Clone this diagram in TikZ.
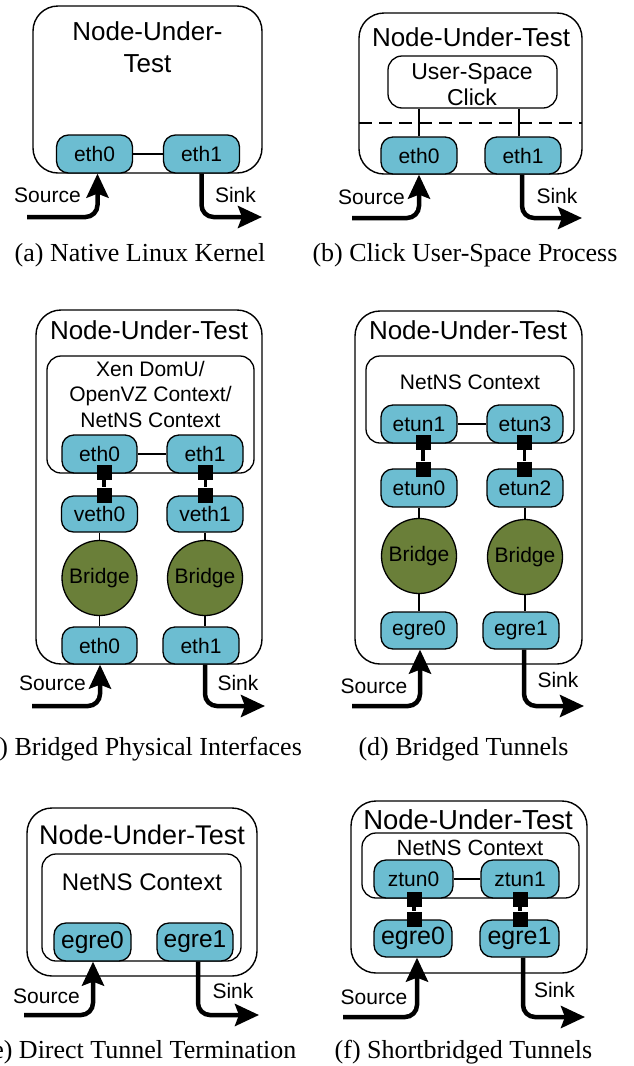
\documentclass[tikz,border=0pt]{standalone}
\usepackage{fontspec}
\setmainfont{Liberation Serif}
\newfontfamily\arialfont{Liberation Sans}
\usetikzlibrary{arrows.meta}
\definecolor{ifblue}{RGB}{108,189,209}
\definecolor{brgreen}{RGB}{106,127,57}
\newcommand\fsz[2]{\fontsize{#1}{#2}\selectfont}
\begin{document}
\begin{tikzpicture}[x=1pt,y=-1pt,
 outer/.style={draw, line width=1.4pt, rounded corners=25pt, inner sep=0pt},
 inner/.style={draw, line width=1.3pt, rounded corners=14pt, inner sep=0pt},
 iface/.style={draw, fill=ifblue, line width=1.3pt, rounded corners=12pt, minimum width=76pt, minimum height=38pt, inner sep=0pt, font=\arialfont\fsz{21}{25}},
 bridge/.style={circle, draw, fill=brgreen, line width=1.3pt, minimum size=75pt, inner sep=0pt, font=\arialfont\fsz{21}{25}},
 plug/.style={fill=black, minimum width=15pt, minimum height=15pt, inner sep=0pt},
 plugline/.style={line width=3.2pt},
 link/.style={line width=1.2pt},
 title/.style={font=\arialfont\fsz{26}{32}, align=center, inner sep=0pt},
 ctx/.style={font=\arialfont\fsz{21}{25.5}, align=center, inner sep=0pt},
 lbl/.style={font=\arialfont\fsz{21}{25}, inner sep=0pt},
 capt/.style={font=\fsz{26}{30}, anchor=base, inner sep=0pt},
 flow/.style={line width=4.5pt, rounded corners=12pt, -{Stealth[length=24pt,width=22pt,inset=4pt]}},
]
\useasboundingbox (0,0) rectangle (633,1066);

% ---------- (a)
\node[outer, minimum width=229pt, minimum height=167pt] (nutA) at (147.5,89.5) {};
\node[title] (tA) at (147.5,47.5) {Node-Under-\\Test};
\node[iface] (e0A) at (94.5,154) {eth0};
\node[iface] (e1A) at (201.5,154) {eth1};
\draw[link] (e0A) -- (e1A);
\coordinate (sA) at (27,217);
\coordinate (kA) at (262,217);
\draw[flow] (sA) -| ([xshift=3pt]e0A.south);
\draw[flow] (e1A.south) |- (kA);
\node[lbl] (srcA) at (47.5,195.5) {Source};
\node[lbl] (snkA) at (235.5,195) {Sink};
\node[capt] (capA) at (140,261) {(a) Native Linux Kernel};

% ---------- (b)
\node[outer, minimum width=223pt, minimum height=161pt] (nutB) at (470.5,93.5) {};
\node[title] (tB) at (471,37) {Node-Under-Test};
\node[inner, minimum width=169pt, minimum height=52pt] (clk) at (472.5,82) {};
\node[ctx, font=\arialfont\fsz{23}{26}] (clkT) at (472,84.6) {User-Space\\Click};
\coordinate (dL) at (359,123);
\coordinate (dR) at (582,123);
\draw[link, dash pattern=on 13pt off 7pt] (dL) -- (dR);
\node[iface, minimum height=37pt] (e0B) at (419,155.5) {eth0};
\node[iface, minimum height=37pt] (e1B) at (523,155.5) {eth1};
\draw[link] (e0B.north) -- (e0B.north |- clk.south);
\draw[link] ([xshift=-4pt]e1B.north) -- ([xshift=-4pt]e1B.north |- clk.south);
\coordinate (sB) at (352,218);
\coordinate (kB) at (582,218);
\draw[flow] (sB) -| (e0B.south);
\draw[flow] ([xshift=-1pt]e1B.south) |- (kB);
\node[lbl] (srcB) at (371.5,197) {Source};
\node[lbl] (snkB) at (557,196) {Sink};
\node[capt] (capB) at (465,261) {(b) Click User-Space Process};

% ---------- (c)
\node[outer, minimum width=226pt, minimum height=354pt] (nutC) at (149,487) {};
\node[title] (tC) at (149,330) {Node-Under-Test};
\node[inner, minimum width=207pt, minimum height=117pt] (ctxC) at (150.5,414.5) {};
\node[ctx] (ctxCT) at (150.5,394) {Xen DomU/\\OpenVZ Context/\\NetNS Context};
\node[iface, minimum width=75pt] (ie0C) at (99.5,454) {eth0};
\node[iface] (ie1C) at (205,454) {eth1};
\draw[link] (ie0C) -- (ie1C);
\node[iface, minimum height=36pt] (v0C) at (99.5,514) {veth0};
\node[iface, minimum height=36pt] (v1C) at (205,514) {veth1};
\node[bridge] (b0C) at (99.5,578) {Bridge};
\node[bridge] (b1C) at (205,578) {Bridge};
\node[iface, minimum width=75pt, minimum height=37pt] (pe0C) at (99.5,645.5) {eth0};
\node[iface, minimum height=37pt] (pe1C) at (201,645.5) {eth1};
\draw[link] (v0C) -- (b0C);
\draw[link] (b0C) -- (pe0C);
\draw[link] (v1C) -- (b1C);
\draw[link] (b1C.south) -- (b1C.south |- pe1C.north);
\node[plug] (q0C) at (104,472.5) {};
\node[plug] (r0C) at (104,495) {};
\draw[plugline] (q0C) -- (r0C);
\node[plug] (q1C) at (205.5,472.5) {};
\node[plug] (r1C) at (205.5,495) {};
\draw[plugline] (q1C) -- (r1C);
\coordinate (sC) at (32,706);
\coordinate (kC) at (265,706);
\draw[flow] (sC) -| ([xshift=0.5pt]pe0C.south);
\draw[flow] ([xshift=4pt]pe1C.south) |- (kC);
\node[lbl] (srcC) at (52.5,683) {Source};
\node[lbl] (snkC) at (238,683) {Sink};
\node[capt] (capC) at (140.5,755) {(c) Bridged Physical Interfaces};

% ---------- (d)
\node[outer, minimum width=227pt, minimum height=353pt] (nutD) at (468.5,487.5) {};
\node[title] (tD) at (468,330) {Node-Under-Test};
\node[inner, minimum width=208pt, minimum height=87pt] (ctxD) at (470,399.5) {};
\node[ctx] (ctxDT) at (470,382) {NetNS Context};
\node[iface] (t1D) at (419,424) {etun1};
\node[iface] (t3D) at (525,424) {etun3};
\draw[link] (t1D) -- (t3D);
\node[iface] (t0D) at (419,488) {etun0};
\node[iface] (t2D) at (525,488) {etun2};
\node[bridge] (b0D) at (419,556) {Bridge};
\node[bridge] (b1D) at (525,557) {Bridge};
\node[iface, minimum height=37pt] (g0D) at (419,630.5) {egre0};
\node[iface, minimum height=37pt] (g1D) at (521,630.5) {egre1};
\draw[link] (t0D) -- (b0D);
\draw[link] (b0D) -- (g0D);
\draw[link] (t2D) -- (b1D);
\draw[link] (b1D.south) -- (b1D.south |- g1D.north);
\node[plug] (q0D) at (423,442) {};
\node[plug] (r0D) at (423,469) {};
\draw[plugline] (q0D) -- (r0D);
\node[plug] (q1D) at (524.5,442) {};
\node[plug] (r1D) at (524.5,469) {};
\draw[plugline] (q1D) -- (r1D);
\coordinate (sD) at (352,706);
\coordinate (kD) at (584,706);
\draw[flow] (sD) -| ([xshift=1pt]g0D.south);
\draw[flow] ([xshift=3pt]g1D.south) |- (kD);
\node[lbl] (srcD) at (374,686) {Source};
\node[lbl] (snkD) at (558,680) {Sink};
\node[capt] (capD) at (463.5,755) {(d) Bridged Tunnels};

% ---------- (e)
\node[outer, minimum width=230pt, minimum height=168pt] (nutE) at (142,892) {};
\node[title, font=\arialfont\fsz{27}{32}] (tE) at (142,835) {Node-Under-Test};
\node[inner, minimum width=199pt, minimum height=107pt] (ctxE) at (141.5,907.5) {};
\node[ctx, font=\arialfont\fsz{24}{28}] (ctxET) at (142,882) {NetNS Context};
\node[iface, minimum width=77pt, font=\arialfont\fsz{24.5}{28}] (g0E) at (92.5,942) {egre0};
\node[iface, font=\arialfont\fsz{24.5}{28}] (g1E) at (195,942) {egre1};
\coordinate (sE) at (24,1015);
\coordinate (kE) at (259,1015);
\draw[flow] (sE) -| ([xshift=0.5pt]g0E.south);
\draw[flow] ([xshift=3pt]g1E.south) |- (kE);
\node[lbl] (srcE) at (46.5,996) {Source};
\node[lbl] (snkE) at (233,991) {Sink};
\node[capt] (capE) at (140,1058) {(e) Direct Tunnel Termination};

% ---------- (f)
\node[outer, minimum width=236pt, minimum height=172pt] (nutF) at (469,887) {};
\node[title, font=\arialfont\fsz{27.5}{32}] (tF) at (468,820) {Node-Under-Test};
\node[inner, minimum width=217pt, minimum height=65pt] (ctxF) at (470.5,865.5) {};
\node[ctx, font=\arialfont\fsz{22}{26}] (ctxFT) at (470,848) {NetNS Context};
\node[iface, minimum width=79pt] (z0F) at (413.5,879) {ztun0};
\node[iface, minimum width=78pt] (z1F) at (520,879) {ztun1};
\draw[link] (z0F) -- (z1F);
\node[iface, minimum width=78pt, minimum height=37pt, font=\arialfont\fsz{25}{28}] (g0F) at (413,938.5) {egre0};
\node[iface, minimum width=79pt, minimum height=37pt, font=\arialfont\fsz{25}{28}] (g1F) at (519.5,938.5) {egre1};
\node[plug] (q0F) at (414,899.5) {};
\node[plug] (r0F) at (414,919) {};
\draw[plugline] (q0F) -- (r0F);
\node[plug] (q1F) at (520,899.5) {};
\node[plug] (r1F) at (520,919) {};
\draw[plugline] (q1F) -- (r1F);
\coordinate (sF) at (343,1017);
\coordinate (kF) at (585,1017);
\draw[flow] (sF) -| ([xshift=4pt]g0F.south);
\draw[flow] ([xshift=3.5pt]g1F.south) |- (kF);
\node[lbl] (srcF) at (374,997) {Source};
\node[lbl] (snkF) at (554.5,990) {Sink};
\node[capt] (capF) at (463.5,1058) {(f) Shortbridged Tunnels};
\end{tikzpicture}
\end{document}
